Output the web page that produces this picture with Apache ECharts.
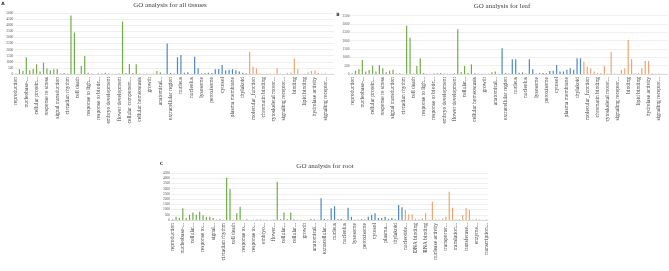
<!DOCTYPE html>
<html>
<head>
<meta charset="utf-8">
<script src="https://cdn.jsdelivr.net/npm/echarts@6/dist/echarts.min.js"></script>
<style>
  html, body { margin: 0; padding: 0; background: #fff; }
  #chart { width: 669px; height: 271px; }
</style>
</head>
<body>
<div id="chart"></div>
<script>
  // GO slim terms, in the order of the bars
  const bpTerms = ['reproduction', 'carbohydrate metabolic process', 'generation of precursor metabolites and energy',
    'nucleobase-containing compound metabolic process', 'DNA metabolic process', 'translation',
    'cellular protein modification process', 'lipid metabolic process', 'transport', 'response to stress',
    'cell cycle', 'cell communication', 'signal transduction', 'cell-cell signaling',
    'multicellular organism development', 'circadian rhythm', 'biological_process', 'metabolic process',
    'cell death', 'catabolic process', 'biosynthetic process', 'response to light stimulus',
    'response to external stimulus', 'tropism', 'response to biotic stimulus', 'response to abiotic stimulus',
    'response to endogenous stimulus', 'embryo development', 'post-embryonic development', 'pollination',
    'flower development', 'cellular process', 'response to extracellular stimulus',
    'cellular component organization', 'cell growth', 'protein metabolic process', 'cellular homeostasis',
    'secondary metabolic process', 'cell differentiation', 'growth', 'regulation of gene expression, epigenetic',
    'gametophyte development', 'anatomical structure formation involved in morphogenesis',
    'anatomical structure development']
  const ccTerms = ['cellular_component', 'extracellular region', 'cell wall', 'cell', 'nucleus', 'nuclear envelope',
    'nucleoplasm', 'nucleolus', 'cytoplasm', 'mitochondrion', 'lysosome', 'endosome', 'vacuole', 'peroxisome',
    'endoplasmic reticulum', 'Golgi apparatus', 'cytosol', 'ribosome', 'cytoskeleton', 'plasma membrane',
    'plasmodesma', 'plastid', 'thylakoid', 'membrane']
  const ccTermsRoot = ccTerms.concat(['external encapsulating structure'])
  const mfTerms = ['nucleotide binding', 'molecular_function', 'nucleic acid binding', 'DNA binding',
    'chromatin binding', 'DNA-binding transcription factor activity', 'RNA binding', 'cytoskeletal motor activity',
    'catalytic activity', 'nuclease activity', 'signaling receptor binding', 'structural molecule activity',
    'transporter activity', 'binding', 'protein binding', 'translation factor activity, RNA binding',
    'lipid binding', 'kinase activity', 'transferase activity', 'hydrolase activity', 'oxygen binding',
    'enzyme regulator activity', 'signaling receptor activity', 'molecular transducer activity',
    'transcription regulator activity']

  // tick labels as printed (one every third bar)
  const tissueLabels = ['reproduction', 'nucleobase-...', 'cellular protein...', 'response to stress',
    'signal transduction', 'circadian rhythm', 'cell death', 'response to ligh...', 'response to biotic...',
    'embryo development', 'flower development', 'cellular component...', 'cellular homeostasis', 'growth',
    'anatomical...', 'extracellular region', 'nucleus', 'nucleolus', 'lysosome', 'peroxisome', 'cytosol',
    'plasma membrane', 'thylakoid', 'molecular_function', 'chromatin binding', 'cytoskeletal motor...',
    'signaling receptor...', 'binding', 'lipid binding', 'hydrolase activity', 'signaling receptor...']
  const leafLabels = ['reproduction', 'nucleobase-...', 'cellular protein...', 'response to stress',
    'signal transduction', 'circadian rhythm', 'cell death', 'response to ligh...', 'response to biotic...',
    'embryo development', 'flower development', 'cellular...', 'cellular homeostasis', 'growth',
    'anatomical...', 'extracellular region', 'nucleus', 'nucleolus', 'lysosome', 'peroxisome', 'cytosol',
    'plasma membrane', 'thylakoid', 'molecular_function', 'chromatin binding', 'cytoskeletal motor...',
    'signaling receptor...', 'binding', 'lipid binding', 'hydrolase activity', 'signaling receptor...']
  const rootLabels = ['reproduction', 'nucleobase-...', 'cellular...', 'response to...', 'signal...',
    'circadian rhythm', 'cell death', 'response to...', 'response to...', 'embryo...', 'flower...',
    'cellular...', 'cellular...', 'growth', 'anatomical...', 'extracellular...', 'nucleus', 'nucleolus',
    'lysosome', 'peroxisome', 'cytosol', 'plasma...', 'thylakoid', 'nucleotide...', 'DNA binding',
    'RNA binding', 'nuclease activity', 'transporter...', 'translation...', 'transferase...', 'enzyme...',
    'transcription...']

  // gene counts
  const tissueBP = [50, 400, 270, 1370, 300, 400, 800, 200, 930, 450, 300, 380, 400, 50, 80, 30, 4800, 3400,
    30, 650, 1470, 100, 30, 10, 50, 50, 100, 50, 20, 20, 50, 4300, 80, 820, 80, 800, 50, 30, 20, 10, 30, 250, 150, 30]
  const tissueCC = [2500, 80, 50, 1370, 1560, 100, 150, 30, 1420, 470, 50, 60, 100, 80, 380, 400, 740, 300,
    350, 400, 300, 200, 100, 60]
  const tissueMF = [1830, 600, 470, 60, 30, 50, 40, 20, 470, 30, 10, 80, 120, 1290, 400, 30, 30, 150, 250,
    280, 100, 20, 60, 10, 20]

  const leafBP = [50, 200, 280, 840, 150, 240, 500, 150, 540, 340, 100, 200, 250, 30, 50, 20, 2900, 2180, 30,
    480, 940, 60, 20, 10, 30, 40, 60, 30, 20, 10, 40, 2680, 100, 480, 60, 580, 40, 20, 20, 10, 20, 100, 150, 20]
  const leafCC = [1540, 50, 30, 880, 880, 80, 100, 30, 880, 290, 30, 50, 60, 40, 180, 200, 540, 150, 150,
    250, 340, 250, 940, 940]
  const leafMF = [740, 440, 340, 150, 50, 60, 480, 30, 1340, 30, 20, 240, 340, 2040, 900, 50, 60, 340, 780,
    780, 50, 20, 30, 10, 20]

  const rootBP = [60, 320, 200, 1120, 200, 500, 730, 500, 800, 450, 300, 300, 200, 40, 60, 20, 4050, 2960,
    30, 640, 1280, 30, 60, 10, 30, 40, 50, 30, 30, 10, 40, 3670, 60, 730, 80, 730, 60, 30, 30, 10, 20, 100, 60, 20]
  const rootCC = [2080, 100, 40, 1120, 1320, 80, 100, 30, 1180, 300, 30, 50, 80, 40, 300, 500, 640, 200, 200,
    300, 100, 200, 80, 1435, 1220]
  const rootMF = [960, 540, 540, 120, 100, 180, 640, 40, 1750, 60, 40, 150, 300, 2710, 1180, 60, 100, 480,
    1120, 960, 50, 120, 60, 30, 40]

  const groupColors = ['#70AD47', '#4A89C8', '#F4A46A']
  const serif = 'Liberation Serif'

  function makeXAxis(idx, terms, labels) {
    return {
      gridIndex: idx,
      type: 'category',
      data: terms,
      axisTick: { show: false },
      axisLine: { lineStyle: { color: '#d9d9d9', width: 1 } },
      axisLabel: {
        interval: 2,
        rotate: 90,
        margin: 3,
        fontSize: 5.5,
        fontFamily: serif,
        color: '#404040',
        formatter: (v, i) => labels[i / 3] || ''
      }
    }
  }

  function makeYAxis(idx, max) {
    return {
      gridIndex: idx,
      type: 'value',
      min: 0,
      max: max,
      interval: 500,
      axisLine: { show: false },
      axisTick: { show: false },
      splitLine: { lineStyle: { color: '#e4e4e4', width: 0.6 } },
      axisLabel: {
        fontSize: 3.5,
        fontFamily: serif,
        color: '#595959',
        margin: 1,
        formatter: v => String(v)
      }
    }
  }

  function makeSeries(idx, bp, cc, mf) {
    const vals = bp.concat(cc, mf)
    const grp = vals.map((v, i) => i < bp.length ? 0 : (i < bp.length + cc.length ? 1 : 2))
    return {
      type: 'bar',
      xAxisIndex: idx,
      yAxisIndex: idx,
      data: vals,
      barWidth: 1.2,
      silent: true,
      itemStyle: { color: p => groupColors[grp[p.dataIndex]] }
    }
  }

  const tissueTerms = bpTerms.concat(ccTerms, mfTerms)
  const rootTerms = bpTerms.concat(ccTermsRoot, mfTerms)

  const titleStyle = { fontSize: 7, fontFamily: serif, fill: '#404040', align: 'center', verticalAlign: 'middle' }
  const letterStyle = { fontSize: 4.5, fontWeight: 'bold', fontFamily: 'DejaVu Sans', fill: '#333', align: 'center', verticalAlign: 'middle' }

  const option = {
    animation: false,
    grid: [
      { left: 14.3, top: 13, width: 319.5, height: 61, outerBoundsMode: 'none' },
      { left: 350.4, top: 15.7, width: 317, height: 58.3, outerBoundsMode: 'none' },
      { left: 171, top: 173, width: 317, height: 47, outerBoundsMode: 'none' }
    ],
    xAxis: [
      makeXAxis(0, tissueTerms, tissueLabels),
      makeXAxis(1, tissueTerms, leafLabels),
      makeXAxis(2, rootTerms, rootLabels)
    ],
    yAxis: [
      makeYAxis(0, 5000),
      makeYAxis(1, 3500),
      makeYAxis(2, 4500)
    ],
    series: [
      makeSeries(0, tissueBP, tissueCC, tissueMF),
      makeSeries(1, leafBP, leafCC, leafMF),
      makeSeries(2, rootBP, rootCC, rootMF)
    ],
    graphic: [
      { type: 'text', x: 170, y: 5.5, style: Object.assign({ text: 'GO analysis for all tissues' }, titleStyle) },
      { type: 'text', x: 502, y: 6.5, style: Object.assign({ text: 'GO analysis for leaf' }, titleStyle) },
      { type: 'text', x: 325, y: 166.5, style: Object.assign({ text: 'GO analysis for root' }, titleStyle) },
      { type: 'text', x: 3, y: 3.5, style: Object.assign({ text: 'A' }, letterStyle) },
      { type: 'text', x: 338, y: 15, style: Object.assign({ text: 'B' }, letterStyle) },
      { type: 'text', x: 161.5, y: 164, style: Object.assign({ text: 'C' }, letterStyle) }
    ]
  }

  const chart = echarts.init(document.getElementById('chart'))
  chart.setOption(option)
  window.onresize = () => {
    chart.resize()
  }
</script>
</body>
</html>
